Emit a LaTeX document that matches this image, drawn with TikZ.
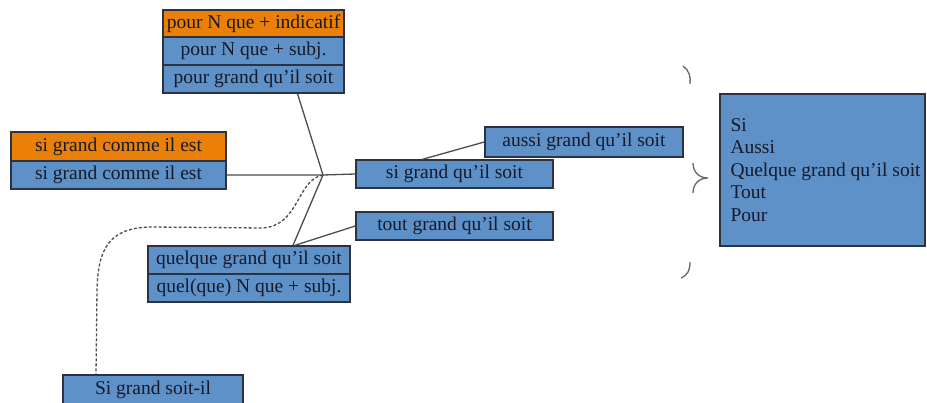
\documentclass[tikz,border=0pt]{standalone}
\usepackage{fontspec}
\setmainfont{Liberation Serif}
\definecolor{boxblue}{RGB}{94,145,199}
\definecolor{boxorange}{RGB}{234,128,8}
\definecolor{boxline}{RGB}{45,50,65}
\definecolor{textdark}{RGB}{22,26,42}
\tikzset{
  blk/.style={draw=boxline, line width=1.4pt, fill=boxblue, inner sep=0pt, text=textdark, font=\fontsize{19.5}{22.5}\selectfont},
  org/.style={blk, fill=boxorange},
  link/.style={draw=black!70, line width=1.3pt},
  curl/.style={draw=black!60, line width=1.3pt}
}
\begin{document}
\begin{tikzpicture}[x=1pt, y=-1pt]
    \useasboundingbox (0,0) rectangle (927,403);
    % Nodes
    \node[org, minimum width=181, minimum height=27] (pind) at (253.5,23.5) {pour N que + indicatif};
    \node[blk, minimum width=181, minimum height=28] (psubj) at (253.5,51) {pour N que + subj.};
    \node[blk, minimum width=181, minimum height=28] (pgrand) at (253.5,79) {pour grand qu'il soit};

    \node[org, minimum width=215, minimum height=29] (scomo) at (118.5,146.5) {si grand comme il est};
    \node[blk, minimum width=215, minimum height=28] (scomb) at (118.5,175) {si grand comme il est};

    \node[blk, minimum width=197, minimum height=28] (sqs) at (454.5,174) {si grand qu'il soit};
    \node[blk, minimum width=198, minimum height=30] (aussi) at (584,142) {aussi grand qu'il soit};
    \node[blk, minimum width=197, minimum height=28] (tout) at (454.5,226) {tout grand qu'il soit};

    \node[blk, minimum width=202, minimum height=28] (quelq) at (249,260) {quelque grand qu'il soit};
    \node[blk, minimum width=202, minimum height=28] (quelN) at (249,288) {quel(que) N que + subj.};

    \node[blk, minimum width=180, minimum height=30] (sgsi) at (153,390) {Si grand soit-il};

    \node[blk, minimum width=205, minimum height=152] (big) at (822.5,170) {};
    \node[anchor=west, align=left, inner sep=0pt, text=textdark, font=\fontsize{19.5}{22.5}\selectfont] (bigtxt) at ([xshift=11pt]big.west) {Si\\Aussi\\Quelque grand qu'il soit\\Tout\\Pour};

    \coordinate (hub) at (323,175);
    % Connection
    \draw[link] ([xshift=44pt]pgrand.south) -- (hub);
    \draw[link] (scomb.east) -- (hub) -- (sqs.west);
    \draw[link] (hub) -- ([xshift=44pt]quelq.north);
    \draw[link] (tout.west) -- ([xshift=46pt]quelq.north);
    \draw[link] ([xshift=-32pt]sqs.north) -- (aussi.west);
    \draw[black!70, line width=1.3pt, densely dashed] (hub) .. controls (296,180) and (300,226) .. (262,228)
        -- (150,227) .. controls (108,228) and (98,250) .. (97,290) -- ([xshift=-57pt]sgsi.north);

    % Brace
    \draw[curl] (683,66) .. controls (689,70) and (691,77) .. (690,84);
    \draw[curl] (693,163) .. controls (693,172) and (699,178) .. (708,178)
        .. controls (699,178) and (693,184) .. (693,193);
    \draw[curl] (690,262) .. controls (690,270) and (688,275) .. (681,278);
\end{tikzpicture}
\end{document}
